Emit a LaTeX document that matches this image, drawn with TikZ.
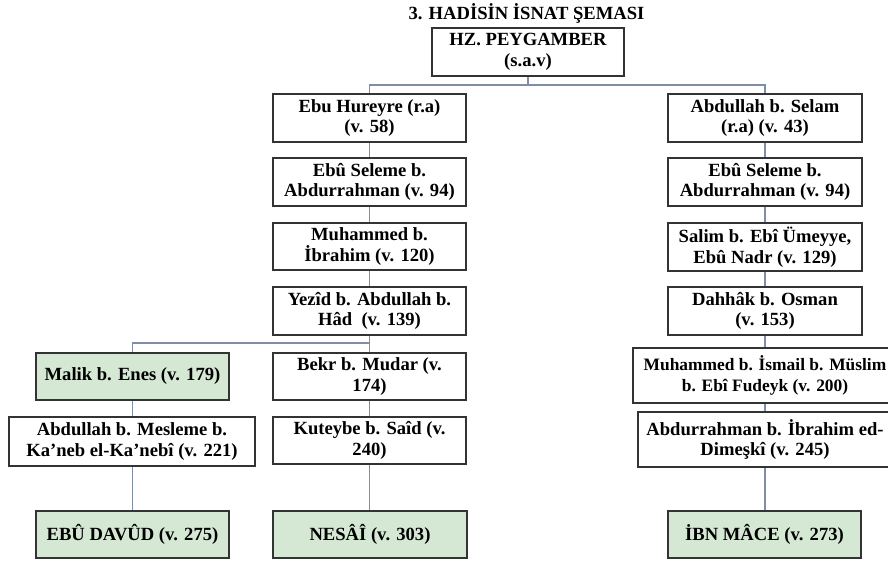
\documentclass[tikz,border=0pt]{standalone}
\usepackage{fontspec}
\setmainfont{Liberation Serif}
\definecolor{boxc}{HTML}{333333}
\definecolor{connc}{HTML}{7E8EA6}
\definecolor{greenf}{HTML}{D5E8D4}
\begin{document}
\begin{tikzpicture}[x=1pt,y=-1pt,
  bx/.style={draw=boxc, line width=1.4pt, fill=white, align=center, inner sep=0pt,
    minimum width=193pt, minimum height=48pt,
    font=\fontsize{18.6}{20.5}\selectfont\bfseries},
  gbx/.style={bx, fill=greenf},
  conn/.style={draw=connc, line width=1.2pt}]
\useasboundingbox (0,0) rectangle (888,562);
\clip (0,0) rectangle (888,562);
\node[font=\fontsize{18.6}{20}\selectfont\bfseries] (title) at (526.5,13.5) {3. HADİSİN İSNAT ŞEMASI};
\node[bx, minimum width=192pt] (peyg) at (528,52) {HZ. PEYGAMBER\\(s.a.v)};
% left column
\node[bx] (L1) at (369.5,118) {Ebu Hureyre (r.a)\\(v. 58)};
\node[bx] (L2) at (369.5,182) {Ebû Seleme b.\\Abdurrahman (v. 94)};
\node[bx, minimum height=47pt] (L3) at (369.5,246.5) {Muhammed b.\\İbrahim (v. 120)};
\node[bx] (L4) at (369.5,311) {Yezîd b. Abdullah b.\\Hâd~~(v. 139)};
\node[gbx, minimum height=47pt] (malik) at (132.5,376.5) {Malik b. Enes (v. 179)};
\node[bx, minimum height=47pt] (bekr) at (369.5,376.5) {Bekr b. Mudar (v.\\174)};
\node[bx, minimum width=246pt, minimum height=49pt] (mesl) at (132,441.5) {Abdullah b. Mesleme b.\\Ka’neb el-Ka’nebî (v. 221)};
\node[bx, minimum height=47pt] (kut) at (369.5,440.5) {Kuteybe b. Saîd (v.\\240)};
\node[gbx, minimum height=47pt] (davud) at (132.5,534.5) {EBÛ DAVÛD (v. 275)};
\node[gbx, minimum height=47pt, minimum width=194pt] (nesai) at (370,534.5) {NESÂÎ (v. 303)};
% right column
\node[bx, minimum width=194pt] (R1) at (765,118) {Abdullah b. Selam\\(r.a) (v. 43)};
\node[bx, minimum width=194pt] (R2) at (765,182) {Ebû Seleme b.\\Abdurrahman (v. 94)};
\node[bx, minimum width=194pt] (R3) at (765,247) {Salim b. Ebî Ümeyye,\\Ebû Nadr (v. 129)};
\node[bx, minimum width=194pt] (R4) at (765,311) {Dahhâk b. Osman\\(v. 153)};
\node[bx, minimum width=264pt, minimum height=55pt, font=\fontsize{17.4}{20.5}\selectfont\bfseries] (R5) at (765,375.5) {Muhammed b. İsmail b. Müslim\\b. Ebî Fudeyk (v. 200)};
\node[bx, minimum width=254pt, minimum height=55pt] (R6) at (765,439.5) {Abdurrahman b. İbrahim ed-\\Dimeşkî (v. 245)};
\node[gbx, minimum width=193pt, minimum height=47pt] (ibn) at (764.5,534.5) {İBN MÂCE (v. 273)};
% connectors
\coordinate (j1) at (528,85);
\coordinate (j2) at (369.5,343);
\draw[conn] (peyg.south) -- (j1);
\draw[conn] (L1.north) |- (j1) -| (R1.north);
\draw[conn] (L1.south) -- (L2.north);
\draw[conn] (L2.south) -- (L3.north);
\draw[conn] (L3.south) -- (L4.north);
\draw[conn] (L4.south) -- (bekr.north);
\draw[conn] (malik.north) |- (j2);
\draw[conn] (malik.south) -- (mesl.north -| malik.south);
\draw[conn] (mesl.south -| davud.north) -- (davud.north);
\draw[conn] (bekr.south) -- (kut.north);
\draw[conn] (kut.south) -- (nesai.north -| kut.south);
\draw[conn] (R1.south) -- (R2.north);
\draw[conn] (R2.south) -- (R3.north);
\draw[conn] (R3.south) -- (R4.north);
\draw[conn] (R4.south) -- (R5.north);
\draw[conn] (R5.south) -- (R6.north);
\draw[conn] (R6.south) -- (ibn.north -| R6.south);
\end{tikzpicture}
\end{document}
